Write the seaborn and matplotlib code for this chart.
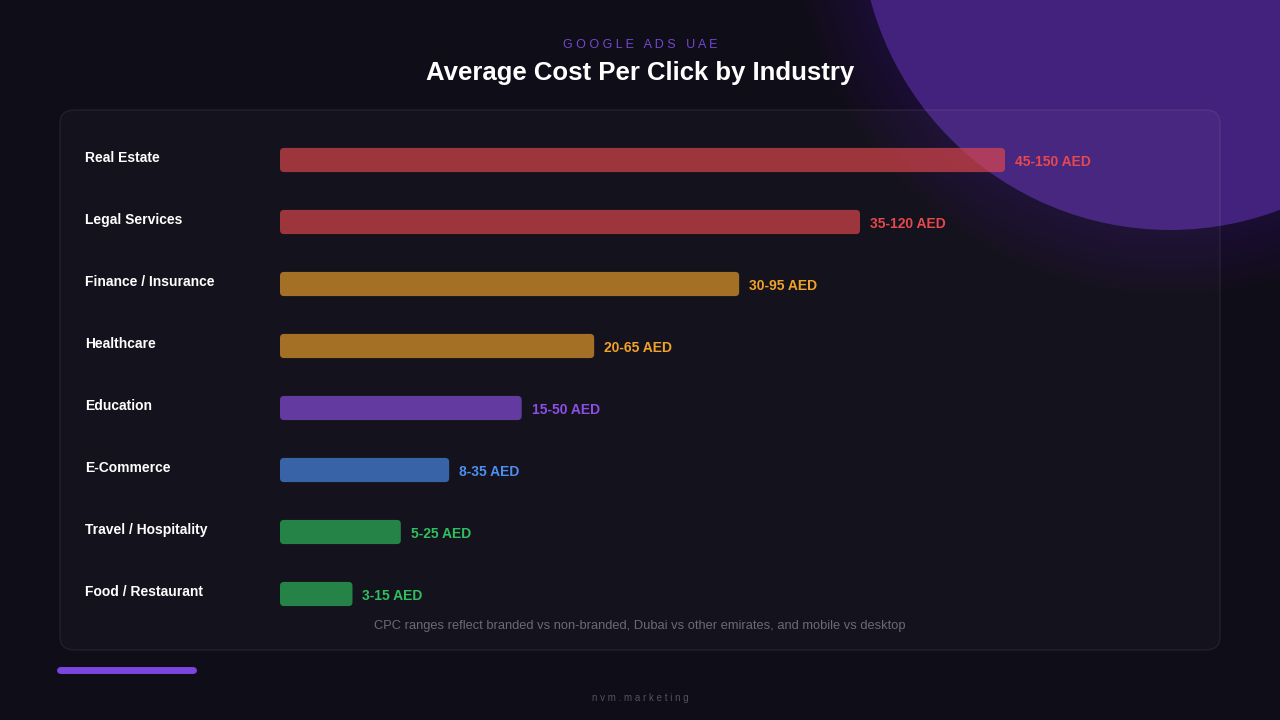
import matplotlib
matplotlib.use("Agg")
import matplotlib.pyplot as plt
import matplotlib.transforms as mtransforms
from matplotlib.patches import FancyBboxPatch, Circle
import seaborn as sns
import pandas as pd

# data
industries = ["Real Estate", "Legal Services", "Finance / Insurance", "Healthcare",
              "Education", "E-Commerce", "Travel / Hospitality", "Food / Restaurant"]
cpc_low = [45, 35, 30, 20, 15, 8, 5, 3]
cpc_high = [150, 120, 95, 65, 50, 35, 25, 15]
colors = ["#e5484d", "#e5484d", "#f0a22a", "#f0a22a",
          "#8b4fe6", "#4d8ef0", "#2fbf5e", "#2fbf5e"]

df = pd.DataFrame({"industry": industries, "low": cpc_low, "high": cpc_high})
df["label"] = [f"{lo}-{hi} AED" for lo, hi in zip(cpc_low, cpc_high)]

sns.set_theme(style="dark")
plt.rcParams["font.family"] = ["Liberation Sans", "Arial", "DejaVu Sans"]

BG = "#0f0d17"
fig = plt.figure(figsize=(12.8, 7.2), dpi=100, facecolor=BG)

# background layer in pixel coordinates
bg = fig.add_axes([0, 0, 1, 1], zorder=0)
bg.set_xlim(0, 1280)
bg.set_ylim(720, 0)
bg.axis("off")
bg.set_facecolor(BG)

# purple glow circle, top right (soft halo from a few faint rings)
for k in range(8):
    bg.add_patch(Circle((1170, -80), 310 + 64 - 8 * k, color="#4b2590", alpha=0.035, lw=0))
bg.add_patch(Circle((1170, -80), 310, color="#43227d", lw=0))

# translucent panel
bg.add_patch(FancyBboxPatch((60, 110), 1160, 540, boxstyle="round,pad=0,rounding_size=14",
                            facecolor=(1, 1, 1, 0.022), edgecolor=(1, 1, 1, 0.06), lw=1.2))

# purple accent line
bg.plot([60, 193], [670, 670], color="#7b45e0", lw=5, solid_capstyle="round")

fig.text(0.5, 1 - 45 / 720, "G O O G L E   A D S   U A E", ha="center", va="center",
         color="#7448d0", fontsize=9)
fig.text(0.5, 1 - 73 / 720, "Average Cost Per Click by Industry", ha="center", va="center",
         color="white", fontsize=18.5, fontweight="bold")
fig.text(0.5, 1 - 626 / 720,
         "CPC ranges reflect branded vs non-branded, Dubai vs other emirates, and mobile vs desktop",
         ha="center", va="center", color="#6c6978", fontsize=9.3)
fig.text(0.5, 1 - 698 / 720, "n v m . m a r k e t i n g", ha="center", va="center",
         color="#55525f", fontsize=7)

# bar chart axes: x 280..1005 px for 0..150, rows 129..625 px
ax = fig.add_axes([280 / 1280, 1 - 625 / 720, 725 / 1280, 496 / 720], zorder=2)
ax.patch.set_alpha(0)
sns.barplot(data=df, y="industry", x="high", hue="industry", palette=colors,
            legend=False, ax=ax, width=0.39, alpha=0.66, saturation=1, orient="h")
ax.set_xlim(0, 150)
ax.set_ylim(len(industries) - 0.5, -0.5)
ax.set_xlabel("")
ax.set_ylabel("")
ax.set_xticks([])
ax.set_yticks([])
for s in ax.spines.values():
    s.set_visible(False)
ax.grid(False)

# round the bar corners
xu = 150 / 725
yu = 8 / 496
for p in list(ax.patches):
    x, y, w, h = p.get_x(), p.get_y(), p.get_width(), p.get_height()
    fc = p.get_facecolor()
    p.remove()
    ax.add_patch(FancyBboxPatch((x, y), w, h,
                                boxstyle=f"round,pad=0,rounding_size={4 * xu}",
                                mutation_aspect=yu / xu, facecolor=fc, lw=0))

# labels
label_tf = mtransforms.blended_transform_factory(fig.transFigure, ax.transData)
for i, row in df.iterrows():
    ax.text(85 / 1280, i - 0.03, row["industry"], transform=label_tf, ha="left", va="center",
            color="white", fontsize=10, fontweight="bold")
    ax.text(row["high"] + 10 * xu, i + 0.03, row["label"], ha="left", va="center",
            color=colors[i], fontsize=10, fontweight="bold")

fig.savefig("out.png", dpi=100, facecolor=BG)
